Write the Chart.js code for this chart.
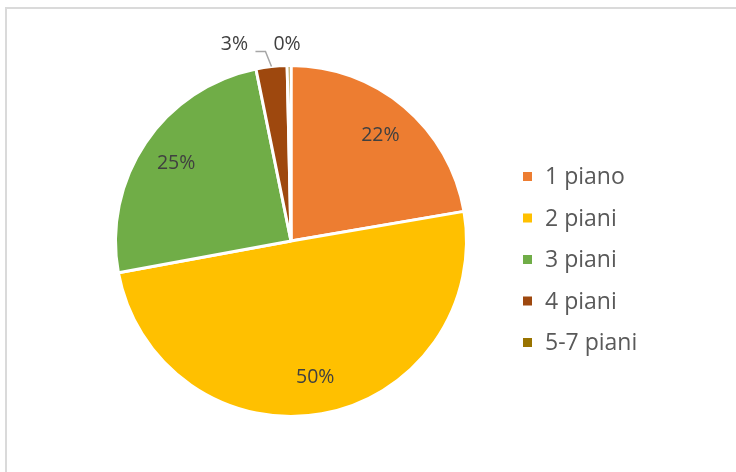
<!DOCTYPE html>
<html>
<head>
<meta charset="utf-8">
<script src="https://cdn.jsdelivr.net/npm/chart.js@4/dist/chart.umd.min.js"></script>
<style>
  html, body { margin: 0; padding: 0; background: #ffffff; }
  #wrap { position: relative; width: 736px; height: 472px; overflow: hidden; background: #fff; }
  #frame { position: absolute; left: 5px; top: 7px; width: 760px; height: 500px;
           border-left: 2px solid #dadada; border-top: 2px solid #dadada; box-sizing: border-box; }
  canvas { position: absolute; left: 0; top: 0; }
</style>
</head>
<body>
<div id="wrap">
  <div id="frame"></div>
  <canvas id="c" width="736" height="472"></canvas>
</div>
<script>
// ---- data ----
const categories = ["1 piano", "2 piani", "3 piani", "4 piani", "5-7 piani"];
const shares = [22.3, 49.8, 24.7, 2.85, 0.35];
const shareLabels = ["22%", "50%", "25%", "3%", "0%"];
const sliceColors = ["#ED7D31", "#FFC000", "#70AD47", "#9E480E", "#997300"];

// ---- label plugin ----
const sliceLabelPlugin = {
  id: 'sliceLabels',
  afterDatasetsDraw(chart, args, opts) {
    const ctx = chart.ctx;
    const meta = chart.getDatasetMeta(0);
    ctx.save();
    ctx.font = opts.font;
    ctx.fillStyle = opts.color;
    ctx.textAlign = 'center';
    ctx.textBaseline = 'middle';
    meta.data.forEach((arc, i) => {
      const p = arc.getProps(['x', 'y', 'startAngle', 'endAngle', 'outerRadius'], true);
      const mid = (p.startAngle + p.endAngle) / 2;
      const text = shareLabels[i];
      const out = opts.outside[i];
      if (!out) {
        const d = p.outerRadius * opts.insideFactor;
        ctx.fillText(text, p.x + Math.cos(mid) * d, p.y + Math.sin(mid) * d);
      } else {
        const ax = p.x + Math.cos(mid) * p.outerRadius;
        const ay = p.y + Math.sin(mid) * p.outerRadius;
        if (out.leader) {
          const ex = ax + out.elbow[0], ey = ay + out.elbow[1];
          const tx = ex - out.tail;
          ctx.save();
          ctx.strokeStyle = opts.leaderColor;
          ctx.lineWidth = 1.5;
          ctx.beginPath();
          ctx.moveTo(ax, ay);
          ctx.lineTo(ex, ey);
          ctx.lineTo(tx, ey);
          ctx.stroke();
          ctx.restore();
        }
        ctx.fillText(text, ax + out.dx, ay + out.dy);
      }
    });
    ctx.restore();
  }
};

// ---- legend plugin ----
const sideLegendPlugin = {
  id: 'sideLegend',
  afterDraw(chart, args, opts) {
    const ctx = chart.ctx;
    const ds = chart.data.datasets[0];
    ctx.save();
    ctx.font = opts.font;
    ctx.textAlign = 'left';
    ctx.textBaseline = 'middle';
    chart.data.labels.forEach((lab, i) => {
      const cy = opts.top + i * opts.spacing;
      ctx.fillStyle = ds.backgroundColor[i];
      ctx.fillRect(opts.left, cy - opts.box / 2, opts.box, opts.box);
      ctx.fillStyle = opts.color;
      ctx.fillText(lab, opts.left + opts.box + opts.gap, cy + 1);
    });
    ctx.restore();
  }
};

new Chart(document.getElementById('c'), {
  type: 'pie',
  data: {
    labels: categories,
    datasets: [{
      data: shares,
      backgroundColor: sliceColors,
      borderColor: '#ffffff',
      borderWidth: 3
    }]
  },
  options: {
    responsive: false,
    animation: false,
    events: [],
    layout: { padding: { left: 114, right: 268, top: 64, bottom: 54 } },
    plugins: {
      legend: { display: false },
      tooltip: { enabled: false },
      sliceLabels: {
        font: '19.5px "Open Sans"',
        color: '#404040',
        leaderColor: '#a6a6a6',
        insideFactor: 0.79,
        outside: {
          3: { dx: -37, dy: -22, leader: true, elbow: [-6, -15], tail: 10 },
          4: { dx: -2, dy: -21.5 }
        }
      },
      sideLegend: {
        font: '23px "Open Sans"',
        color: '#595959',
        left: 523, top: 176.5, spacing: 41.5, box: 9, gap: 13
      }
    }
  },
  plugins: [sliceLabelPlugin, sideLegendPlugin]
});
</script>
</body>
</html>
